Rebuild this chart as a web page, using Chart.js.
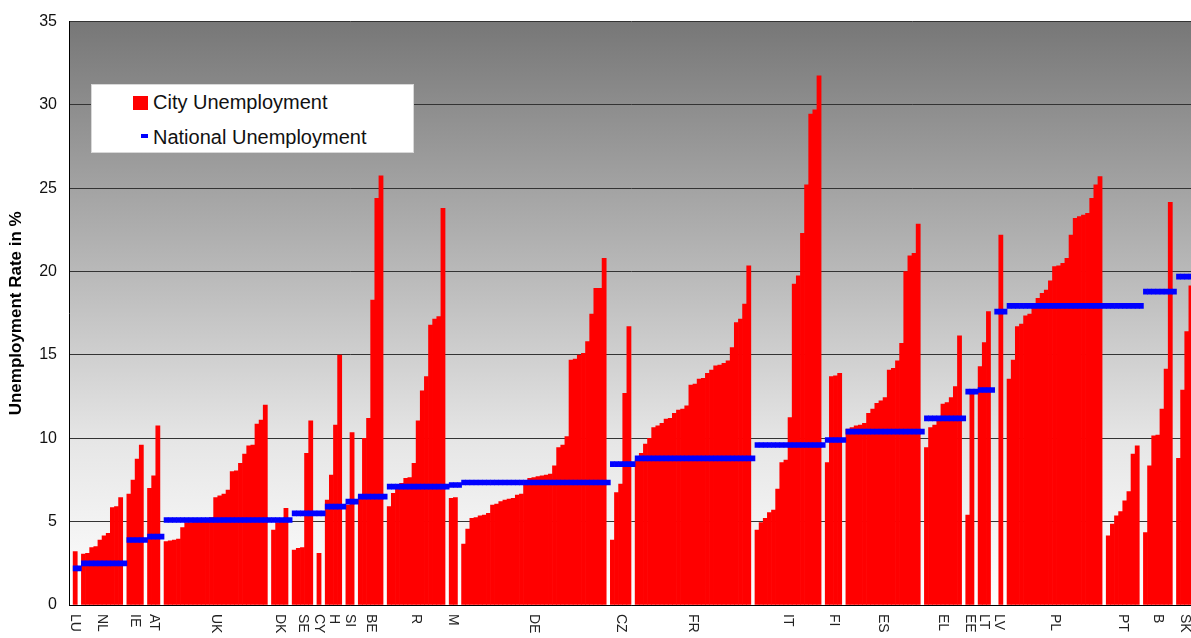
<!DOCTYPE html>
<html>
<head>
<meta charset="utf-8">
<script src="https://cdn.jsdelivr.net/npm/chart.js@4.4.1/dist/chart.umd.min.js"></script>
<style>
  html, body { margin: 0; padding: 0; background: #fff; overflow: hidden; }
  #wrap { position: relative; width: 1193px; height: 638px; }
  #legend {
    position: absolute; left: 91px; top: 84px; width: 323px; height: 69px;
    background: #fff; border: 1px solid #d8d8d8; box-sizing: border-box;
    font-family: "Liberation Sans", Arial, sans-serif; font-size: 20px; color: #111;
  }
  #legend .txt { position: absolute; left: 61px; line-height: 20px; white-space: nowrap; }
  #legend .sw { position: absolute; }
</style>
</head>
<body>
<div id="wrap">
  <canvas id="unemployment-chart" width="1193" height="638"></canvas>
  <div id="legend">
    <span class="sw" style="left:41px;top:11px;width:15px;height:14px;background:#ff0000"></span>
    <span class="txt" style="top:7px">City Unemployment</span>
    <span class="sw" style="left:49px;top:49px;width:7px;height:4px;background:#0000ff"></span>
    <span class="txt" style="top:42px">National Unemployment</span>
  </div>
</div>
<script>
// countries in chart order (also the axis labels)
const countries = ["LU", "NL", "IE", "AT", "UK", "DK", "SE", "CY", "H", "SI", "BE", "R", "M",
  "DE", "CZ", "FR", "IT", "FI", "ES", "EL", "EE", "LT", "LV", "PL", "PT", "B", "SK"];

// national unemployment rate per country (%)
const nationalRates = [2.2, 2.5, 3.9, 4.1, 5.1, 5.1, 5.5, 5.5, 5.9, 6.2, 6.5, 7.1, 7.2,
  7.35, 8.45, 8.8, 9.6, 9.9, 10.4, 11.2, 12.8, 12.9, 17.6, 17.95, 17.95, 18.8, 19.7];

// city unemployment rates (%), one list per country
const LU = [3.2];
const NL = [3.05, 3.1, 3.45, 3.5, 3.9, 4.15, 4.3, 5.85, 5.9, 6.45];
const IE = [6.65, 7.5, 8.75, 9.6];
const AT = [7.0, 7.75, 10.75];
const UK = [3.8, 3.85, 3.9, 3.95, 4.65, 4.95, 4.95, 5.0, 5.0, 5.05, 5.1, 5.25, 6.45, 6.55,
  6.65, 6.9, 8.0, 8.05, 8.5, 9.05, 9.55, 9.6, 10.85, 11.1, 12.0];
const DK = [4.5, 4.95, 5.0, 5.8];
const SE = [3.3, 3.4, 3.45, 9.1, 11.05];
const CY = [3.1];
const H = [6.3, 7.8, 10.8, 15.0];
const SI = [6.0, 10.35];
const BE = [6.6, 10.0, 11.2, 18.3, 24.4, 25.75];
const R = [5.9, 6.7, 7.1, 7.3, 7.6, 7.65, 8.5, 11.05, 12.85, 13.7, 16.8, 17.15, 17.3, 23.8];
const M = [6.4, 6.45];
const DE = [3.65, 4.55, 5.2, 5.25, 5.35, 5.4, 5.5, 6.0, 6.05, 6.2, 6.3, 6.35, 6.4, 6.6, 6.65,
  7.2, 7.6, 7.65, 7.7, 7.75, 7.8, 7.85, 8.35, 9.45, 9.6, 10.1, 14.7, 14.75, 15.0, 15.1, 15.8,
  17.45, 19.0, 19.0, 20.8];
const CZ = [3.9, 6.75, 7.25, 12.7, 16.7];
const FR = [8.7, 9.1, 9.65, 10.0, 10.65, 10.75, 10.9, 11.15, 11.2, 11.5, 11.7, 11.75, 11.95,
  13.2, 13.25, 13.55, 13.6, 13.9, 14.1, 14.35, 14.4, 14.5, 14.65, 15.45, 16.95, 17.15, 18.05, 20.35];
const IT = [4.5, 4.95, 5.2, 5.55, 5.7, 6.95, 8.55, 8.7, 11.25, 19.25, 19.75, 22.3, 25.2, 29.45,
  29.7, 31.75];
const FI = [8.55, 13.7, 13.75, 13.9];
const ES = [10.55, 10.65, 10.75, 10.8, 10.9, 11.5, 11.75, 12.1, 12.25, 12.45, 14.1, 14.2, 14.65,
  15.7, 20.0, 20.95, 21.1, 22.85];
const EL = [9.45, 10.65, 10.8, 11.1, 12.05, 12.15, 12.45, 13.1, 16.15];
const EE = [5.4, 12.7];
const LT = [14.3, 15.75, 17.6];
const LV = [null, 22.2];
const PL = [13.55, 14.7, 16.7, 16.85, 17.35, 17.45, 18.0, 18.4, 18.7, 18.9, 19.45, 20.3, 20.35,
  20.5, 20.8, 22.2, 23.2, 23.3, 23.4, 23.5, 24.4, 25.2, 25.7];
const PT = [4.15, 4.85, 5.35, 5.6, 6.25, 6.8, 9.05, 9.55];
const B = [4.35, 8.35, 10.15, 10.2, 11.75, 14.15, 24.15];
const SK = [8.8, 12.9, 16.4, 19.15];

const cityRates = [LU, NL, IE, AT, UK, DK, SE, CY, H, SI, BE, R, M, DE, CZ, FR, IT, FI, ES, EL,
  EE, LT, LV, PL, PT, B, SK];

const yTicks = [0, 5, 10, 15, 20, 25, 30, 35];

// build one category slot per city, with an empty slot between countries
const slotLabels = [""];
const cityData = [null];
const nationalData = [null];
const countryRanges = [];
const band = (v) => [v - 0.15, v + 0.15];

countries.forEach((code, i) => {
  const first = slotLabels.length;
  cityRates[i].forEach((v) => {
    slotLabels.push(code);
    cityData.push(v);
    nationalData.push(band(nationalRates[i]));
  });
  countryRanges.push({ code, first, last: slotLabels.length - 1 });
  if (i < countries.length - 1) {
    slotLabels.push("");
    cityData.push(null);
    nationalData.push(band(nationalRates[i]));
  }
});

// grey gradient behind the plot
const plotBackground = {
  id: "plotBackground",
  beforeDraw(chart) {
    const { ctx, chartArea: a } = chart;
    const g = ctx.createLinearGradient(0, a.top, 0, a.bottom);
    g.addColorStop(0, "#777777");
    g.addColorStop(0.45, "#bcbcbc");
    g.addColorStop(0.72, "#e6e6e6");
    g.addColorStop(1, "#ffffff");
    ctx.save();
    ctx.fillStyle = g;
    ctx.fillRect(a.left, a.top, a.right - a.left, a.bottom - a.top);
    ctx.restore();
  },
};

// country codes under the axis, turned to read downwards
const countryLabels = {
  id: "countryLabels",
  afterDraw(chart) {
    const { ctx, scales: { x }, chartArea } = chart;
    ctx.save();
    ctx.font = '14px "Liberation Sans", Arial, sans-serif';
    ctx.fillStyle = "#222";
    ctx.textAlign = "left";
    ctx.textBaseline = "middle";
    countryRanges.forEach((r) => {
      const px = (x.getPixelForValue(r.first) + x.getPixelForValue(r.last)) / 2;
      ctx.save();
      ctx.translate(px, chartArea.bottom + 9);
      ctx.rotate(Math.PI / 2);
      ctx.fillText(r.code, 0, 0);
      ctx.restore();
    });
    ctx.restore();
  },
};

new Chart(document.getElementById("unemployment-chart"), {
  type: "bar",
  data: {
    labels: slotLabels,
    datasets: [
      {
        label: "National Unemployment",
        data: nationalData,
        backgroundColor: "#0000ff",
        grouped: false,
        order: 0,
        barPercentage: 1,
        categoryPercentage: 1,
      },
      {
        label: "City Unemployment",
        data: cityData,
        backgroundColor: "#ff0000",
        grouped: false,
        order: 1,
        barPercentage: 1,
        categoryPercentage: 1,
      },
    ],
  },
  options: {
    responsive: false,
    animation: false,
    layout: { padding: { top: 20, bottom: 33, left: 0, right: 0 } },
    plugins: { legend: { display: false }, tooltip: { enabled: false } },
    scales: {
      x: {
        grid: { display: false },
        border: { display: true, color: "#000", width: 1 },
        ticks: { display: false },
        afterFit: (s) => { s.height = 0; },
      },
      y: {
        min: 0,
        max: 35,
        afterBuildTicks: (s) => { s.ticks = yTicks.map((v) => ({ value: v })); },
        ticks: {
          color: "#111",
          padding: 12,
          font: { family: '"Liberation Sans", Arial, sans-serif', size: 16 },
        },
        grid: { color: "#333", drawTicks: false },
        border: { color: "#000" },
        title: {
          display: true,
          text: "Unemployment Rate in %",
          color: "#000",
          font: { family: '"Liberation Sans", Arial, sans-serif', size: 17, weight: "bold" },
          padding: { top: 6, bottom: 0 },
        },
        afterFit: (s) => { s.width = 69; },
      },
    },
  },
  plugins: [plotBackground, countryLabels],
});
</script>
</body>
</html>
